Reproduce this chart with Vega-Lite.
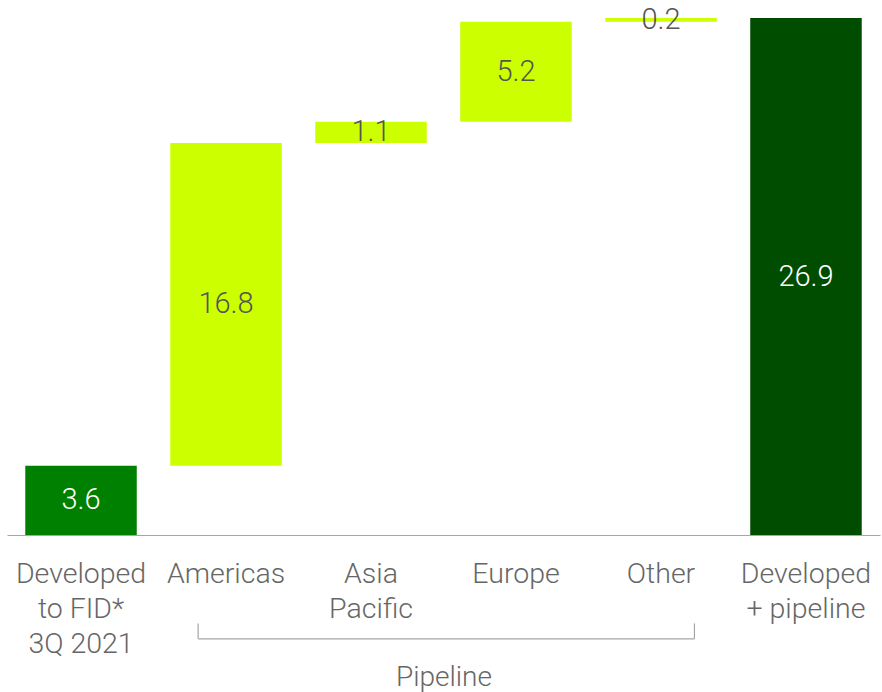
{
  "$schema": "https://vega.github.io/schema/vega-lite/v6.json",
  "width": 873,
  "height": 517,
  "autosize": "none",
  "padding": {"left": 7, "top": 18, "right": 2, "bottom": 157},
  "background": "white",
  "config": {"view": {"stroke": null}, "font": "Roboto"},
  "data": {
    "values": [
      {"cat": "Developed|to FID*|3Q 2021", "kind": "fid", "start": 0, "end": 3.6, "value": "3.6"},
      {"cat": "Americas", "kind": "pipeline", "start": 3.6, "end": 20.4, "value": "16.8"},
      {"cat": "Asia|Pacific", "kind": "pipeline", "start": 20.4, "end": 21.5, "value": "1.1"},
      {"cat": "Europe", "kind": "pipeline", "start": 21.5, "end": 26.7, "value": "5.2"},
      {"cat": "Other", "kind": "pipeline", "start": 26.7, "end": 26.9, "value": "0.2"},
      {"cat": "Developed|+ pipeline", "kind": "total", "start": 0, "end": 26.9, "value": "26.9"}
    ]
  },
  "encoding": {
    "x": {
      "field": "cat",
      "type": "nominal",
      "sort": null,
      "scale": {"paddingInner": 0.231, "paddingOuter": 0.126},
      "axis": {
        "title": "Pipeline",
        "titleFont": "Roboto",
        "titleFontWeight": 300,
        "titleFontSize": 28,
        "titleColor": "#666666",
        "titlePadding": 6,
        "labelExpr": "split(datum.label, '|')",
        "labelAngle": 0,
        "labelFont": "Roboto",
        "labelFontWeight": 300,
        "labelFontSize": 28.5,
        "labelColor": "#666666",
        "labelLineHeight": 35,
        "labelPadding": 24,
        "labelBaseline": "top",
        "ticks": false,
        "domainColor": "#a6a6a6",
        "domainWidth": 1.2
      }
    }
  },
  "layer": [
    {
      "mark": {"type": "bar"},
      "encoding": {
        "y": {"field": "start", "type": "quantitative", "scale": {"domain": [0, 26.9], "nice": false, "zero": true}, "axis": null},
        "y2": {"field": "end"},
        "color": {
          "field": "kind",
          "type": "nominal",
          "scale": {"domain": ["fid", "pipeline", "total"], "range": ["#008000", "#CCFF00", "#004D00"]},
          "legend": null
        }
      }
    },
    {
      "transform": [{"calculate": "(datum.start + datum.end) / 2", "as": "mid"}],
      "mark": {"type": "text", "font": "Roboto", "fontWeight": 300, "fontSize": 29, "baseline": "middle", "align": "center"},
      "encoding": {
        "y": {"field": "mid", "type": "quantitative"},
        "text": {"field": "value"},
        "color": {"condition": {"test": "datum.kind != 'pipeline'", "value": "white"}, "value": "#555555"}
      }
    },
    {
      "transform": [{"filter": "datum.cat == 'Americas'"}],
      "mark": {"type": "rule", "color": "#a6a6a6", "strokeWidth": 1.2},
      "encoding": {
        "x": {"field": "cat", "type": "nominal", "sort": null, "bandPosition": 0.25},
        "y": {"datum": -4.6},
        "y2": {"datum": -5.4}
      }
    },
    {
      "transform": [{"filter": "datum.cat == 'Other'"}],
      "mark": {"type": "rule", "color": "#a6a6a6", "strokeWidth": 1.2},
      "encoding": {
        "x": {"field": "cat", "type": "nominal", "sort": null, "bandPosition": 0.8},
        "y": {"datum": -4.6},
        "y2": {"datum": -5.4}
      }
    },
    {
      "data": {"values": [{"from": "Americas", "to": "Other"}]},
      "mark": {"type": "rule", "color": "#a6a6a6", "strokeWidth": 1.2},
      "encoding": {
        "x": {"field": "from", "type": "nominal", "bandPosition": 0.25},
        "x2": {"field": "to", "bandPosition": 0.8},
        "y": {"datum": -5.4}
      }
    }
  ]
}
